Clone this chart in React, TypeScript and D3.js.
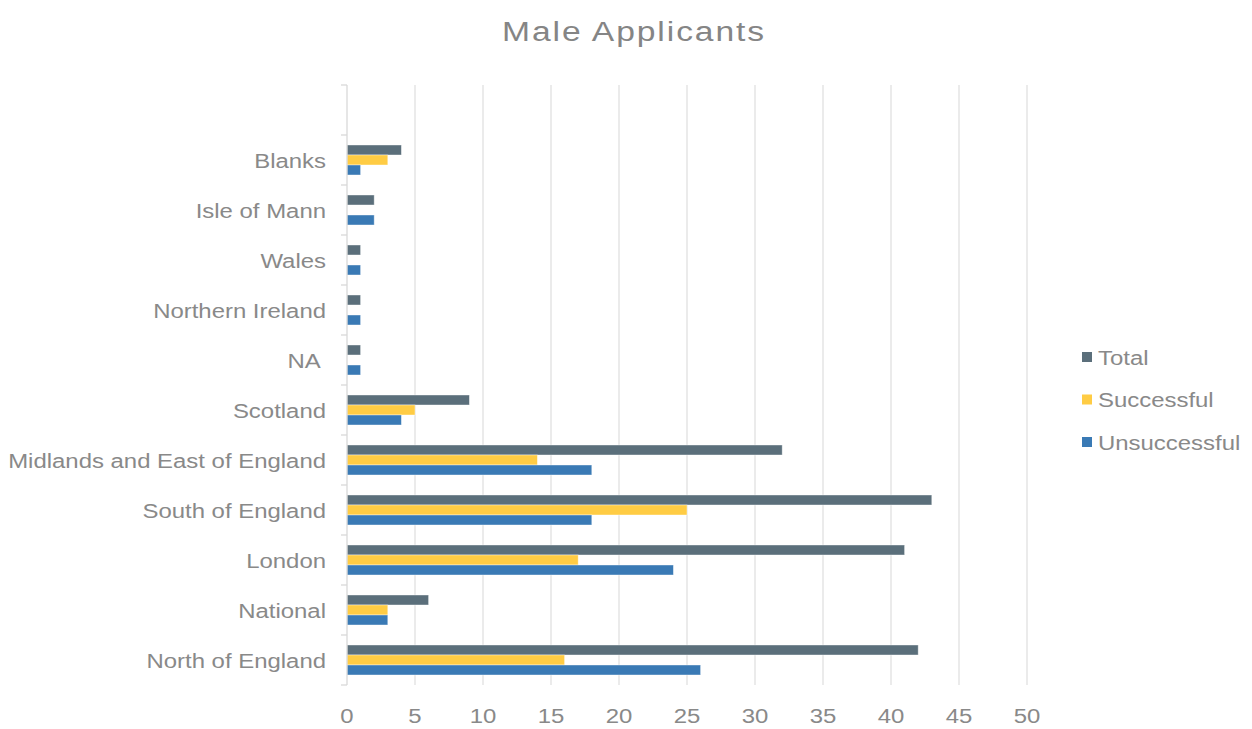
import * as d3 from "d3";

const categories = [
  "",
  "Blanks",
  "Isle of Mann",
  "Wales",
  "Northern Ireland",
  "NA ",
  "Scotland",
  "Midlands and East of England",
  "South of England",
  "London",
  "National",
  "North of England",
];

const seriesNames = ["Total", "Successful", "Unsuccessful"];
const seriesColors = ["#5B6F7B", "#FFCC44", "#3A7AB5"];

// values per category, same order as categories (blank first row is empty)
const totalValues = [0, 4, 2, 1, 1, 1, 9, 32, 43, 41, 6, 42];
const successfulValues = [0, 3, 0, 0, 0, 0, 5, 14, 25, 17, 3, 16];
const unsuccessfulValues = [0, 1, 2, 1, 1, 1, 4, 18, 18, 24, 3, 26];

const xTicks = [0, 5, 10, 15, 20, 25, 30, 35, 40, 45, 50];

const W = 1252;
const H = 729;
const margin = { top: 85, right: 225, bottom: 44, left: 347 };
const font = "'Liberation Sans', Arial, sans-serif";
const textColor = "#898989";

function Label({
  x,
  y,
  size,
  anchor = "start",
  dy = "0",
  fill = textColor,
  stretch = 1.14,
  spacing = 0,
  children,
}: {
  x: number;
  y: number;
  size: number;
  anchor?: "start" | "middle" | "end";
  dy?: string;
  fill?: string;
  stretch?: number;
  spacing?: number;
  children: string | number;
}) {
  // source text is rendered wider than plain Arial
  return (
    <text
      transform={`translate(${x},${y}) scale(${stretch},1)`}
      textAnchor={anchor}
      dy={dy}
      fontSize={size}
      fill={fill}
      letterSpacing={spacing}
      style={{ whiteSpace: "pre" }}
    >
      {children}
    </text>
  );
}

export default function App() {
  const x = d3
    .scaleLinear()
    .domain([0, 50])
    .range([margin.left, margin.left + 680]);

  const y = d3
    .scaleBand<string>()
    .domain(categories)
    .range([margin.top, H - margin.bottom])
    .padding(0);

  const inner = d3
    .scaleBand<string>()
    .domain(seriesNames)
    .range([0, y.bandwidth()])
    .paddingInner(0)
    .paddingOuter(1);

  const seriesValues = [totalValues, successfulValues, unsuccessfulValues];
  const y0 = margin.top;
  const y1 = H - margin.bottom;
  const boundaries = categories.map((c) => y(c) ?? 0).concat([y1]);

  return (
    <svg
      width={W}
      height={H}
      style={{ position: "absolute", left: 0, top: 0, background: "#fff" }}
      fontFamily={font}
    >
      <Label x={634} y={41} size={28} anchor="middle" fill="#858585" stretch={1.2} spacing={1.6}>
        Male Applicants
      </Label>

      {/* grid */}
      {xTicks.slice(1).map((t) => (
        <line key={t} x1={x(t)} x2={x(t)} y1={y0} y2={y1} stroke="#e0e0e0" strokeWidth={1.3} />
      ))}

      {/* bars */}
      {seriesNames.map((s, si) =>
        categories.map((c, ci) => {
          const v = seriesValues[si][ci];
          if (!v) return null;
          return (
            <rect
              key={s + c}
              x={x(0)}
              y={(y(c) ?? 0) + (inner(s) ?? 0)}
              width={x(v) - x(0)}
              height={inner.bandwidth()}
              fill={seriesColors[si]}
              stroke="#ffffff"
              strokeOpacity={0.5}
              strokeWidth={0.8}
            />
          );
        })
      )}

      {/* y axis */}
      <line x1={x(0)} x2={x(0)} y1={y0} y2={y1} stroke="#d9d9d9" strokeWidth={1.3} />
      {boundaries.map((b, i) => (
        <line key={i} x1={x(0) - 6} x2={x(0)} y1={b} y2={b} stroke="#d9d9d9" strokeWidth={1.3} />
      ))}
      {categories.map((c) => (
        <Label key={c} x={326} y={(y(c) ?? 0) + y.bandwidth() / 2} dy="0.36em" anchor="end" size={21}>
          {c}
        </Label>
      ))}

      {/* x axis labels */}
      {xTicks.map((t) => (
        <Label key={t} x={x(t)} y={723} anchor="middle" size={21}>
          {t}
        </Label>
      ))}

      {/* legend */}
      {seriesNames.map((s, i) => (
        <g key={s} transform={`translate(1082,${357 + i * 42.5})`}>
          <rect x={0} y={-5} width={10} height={10} fill={seriesColors[i]} />
          <Label x={16} y={0} dy="0.36em" size={21}>
            {s}
          </Label>
        </g>
      ))}
    </svg>
  );
}
